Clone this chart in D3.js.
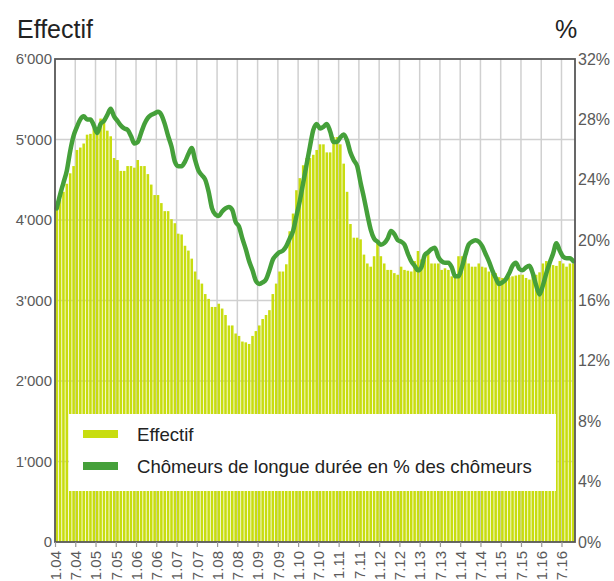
<!DOCTYPE html>
<html>
<head>
<meta charset="utf-8">
<script src="https://cdn.jsdelivr.net/npm/d3@7"></script>
<style>
  body { margin: 0; background: #fff; }
  svg { display: block; font-family: "Liberation Sans", Arial, sans-serif; }
</style>
</head>
<body>
<div id="chart"></div>
<script>
// monthly values, 1.2004 - 10.2016
const effectif = [
  4150, 4250, 4350, 4450, 4580, 4670, 4870, 4900, 4950, 5060,
  5070, 5200, 5140, 5260, 5260, 5110, 5040, 4770, 4745, 4610,
  4610, 4670, 4670, 4650, 4745, 4670, 4670, 4570, 4440, 4310,
  4310, 4210, 4110, 4110, 4010, 3960, 3830, 3820, 3680, 3620,
  3520, 3360, 3260, 3210, 3080, 3020, 2920, 2920, 2960, 2900,
  2820, 2690, 2690, 2590, 2560, 2490, 2480, 2460, 2560, 2620,
  2690, 2770, 2820, 2880, 3080, 3210, 3360, 3360, 3450, 3860,
  4080, 4370, 4520, 4680, 4770, 4770, 4810, 4870, 4940, 4940,
  4840, 4840, 5030, 5030, 4940, 4700, 4350, 3950, 3780, 3780,
  3760, 3570, 3460, 3420, 3550, 3730, 3550, 3460, 3380, 3380,
  3340, 3320, 3420, 3380, 3370, 3360, 3490, 3615, 3510, 3510,
  3580, 3460, 3460, 3460, 3380, 3400, 3380, 3300, 3300, 3550,
  3550, 3540, 3460, 3420, 3420, 3460, 3420, 3410, 3360, 3330,
  3340, 3290, 3280, 3280, 3290, 3300, 3310, 3320, 3320, 3280,
  3260, 3320, 3320, 3350, 3460, 3490, 3460, 3440, 3430, 3490,
  3460, 3420, 3460, 3460
]

const longueDuree = [
  22.1, 23.0, 23.8, 24.6, 25.9, 26.9, 27.5, 28.0, 28.2, 28.0,
  28.0, 27.6, 27.1, 27.7, 27.9, 28.3, 28.7, 28.2, 27.9, 27.6,
  27.4, 27.3, 26.9, 26.4, 26.5, 27.1, 27.7, 28.1, 28.3, 28.4,
  28.5, 28.3, 27.7, 26.9, 26.2, 25.2, 24.9, 24.9, 25.2, 25.7,
  26.1, 25.3, 24.6, 24.3, 24.0, 23.2, 22.1, 21.7, 21.6, 21.9,
  22.1, 22.2, 22.0, 21.2, 20.9, 20.1, 19.4, 18.6, 18.0, 17.3,
  17.1, 17.2, 17.4, 18.0, 18.7, 19.0, 19.2, 19.3, 19.6, 20.1,
  20.6, 21.6, 22.6, 23.8, 25.0, 26.2, 27.3, 27.7, 27.4, 27.5,
  27.7, 27.2, 26.5, 26.5, 26.8, 27.0, 26.6, 25.8, 25.3, 24.9,
  23.8, 22.8, 21.7, 20.7, 20.1, 19.9, 19.7, 19.8, 20.1, 20.6,
  20.4, 20.0, 19.9, 19.7, 19.1, 18.6, 18.3, 18.0, 18.2, 19.0,
  19.2, 19.4, 19.5, 18.9, 18.6, 18.5, 18.5, 18.2, 17.6, 17.6,
  18.2, 19.0, 19.7, 19.9, 20.0, 19.9, 19.6, 19.1, 18.6, 18.0,
  17.5, 17.1, 17.2, 17.4, 17.8, 18.3, 18.5, 18.1, 18.0, 18.2,
  18.3, 17.8, 17.0, 16.4, 17.0, 17.8, 18.5, 19.1, 19.8, 19.3,
  18.9, 18.8, 18.8, 18.6
]

const tickLabels = [
  '1.04', '7.04', '1.05', '7.05', '1.06', '7.06', '1.07', '7.07', '1.08',
  '7.08', '1.09', '7.09', '1.10', '7.10', '1.11', '7.11', '1.12', '7.12',
  '1.13', '7.13', '1.14', '7.14', '1.15', '7.15', '1.16', '7.16'
]
const leftTicks = [0, 1000, 2000, 3000, 4000, 5000, 6000]
const rightTicks = [0, 4, 8, 12, 16, 20, 24, 28, 32]
const seriesNames = ['Effectif', 'Chômeurs de longue durée en % des chômeurs']

const months = d3.timeMonth.range(new Date(2004, 0, 1), new Date(2016, 10, 1))

const barColor = '#c8dd0f'
const lineColor = '#45a03a'
const gridColor = '#d0d0d0'
const frameColor = '#585858'
const textColor = '#5a5a5a'

const W = 614, H = 581
const margin = { top: 59, right: 39, bottom: 39, left: 55 }
const width = W - margin.left - margin.right
const height = H - margin.top - margin.bottom

const svg = d3.select('#chart').append('svg')
  .attr('width', W)
  .attr('height', H)

const g = svg.append('g')
  .attr('transform', `translate(${margin.left}, ${margin.top})`)

const x = d3.scaleBand()
  .domain(months)
  .range([0, width])
  .paddingInner(0.24)
  .paddingOuter(0.12)

// month index scale, for ticks on month boundaries
const xIdx = d3.scaleLinear()
  .domain([0, months.length])
  .range([0, width])

const yLeft = d3.scaleLinear().domain([0, 6000]).range([height, 0])
const yRight = d3.scaleLinear().domain([0, 32]).range([height, 0])

const tickIdx = tickLabels.map((d, i) => i * 6)

// grid
g.append('g')
  .selectAll('line.h')
  .data(leftTicks.slice(1, -1))
  .join('line')
    .attr('x1', 0).attr('x2', width)
    .attr('y1', d => yLeft(d)).attr('y2', d => yLeft(d))
    .attr('stroke', gridColor).attr('stroke-width', 1.5)

g.append('g')
  .selectAll('line.v')
  .data(tickIdx.slice(1))
  .join('line')
    .attr('x1', d => xIdx(d)).attr('x2', d => xIdx(d))
    .attr('y1', 0).attr('y2', height)
    .attr('stroke', gridColor).attr('stroke-width', 1.5)

// bars
g.append('g')
  .selectAll('rect')
  .data(effectif)
  .join('rect')
    .attr('x', (d, i) => x(months[i]))
    .attr('y', d => yLeft(d))
    .attr('width', x.bandwidth())
    .attr('height', d => height - yLeft(d))
    .attr('fill', barColor)

// line
const line = d3.line()
  .x((d, i) => x(months[i]) + x.bandwidth() / 2)
  .y(d => yRight(d))
  .curve(d3.curveMonotoneX)

g.append('path')
  .datum(longueDuree)
  .attr('d', line)
  .attr('fill', 'none')
  .attr('stroke', lineColor)
  .attr('stroke-width', 4.5)
  .attr('stroke-linejoin', 'round')
  .attr('stroke-linecap', 'round')

// frame
g.append('rect')
  .attr('width', width)
  .attr('height', height)
  .attr('fill', 'none')
  .attr('stroke', frameColor)
  .attr('stroke-width', 1.8)

// bottom axis
const xAxis = d3.axisBottom(xIdx)
  .tickValues(tickIdx)
  .tickFormat((d, i) => tickLabels[i])
  .tickSize(5)
  .tickPadding(4)

const xg = g.append('g')
  .attr('transform', `translate(0, ${height})`)
  .call(xAxis)
xg.select('.domain').remove()
xg.selectAll('line').attr('stroke', '#999').attr('stroke-width', 1.2)
xg.selectAll('text')
  .attr('transform', 'rotate(-90)')
  .attr('text-anchor', 'end')
  .attr('x', -9)
  .attr('y', 0)
  .attr('dy', '0.35em')
  .attr('fill', textColor)
  .style('font-size', '15px')
  .style('font-family', '"Liberation Sans", Arial, sans-serif')

// left labels
g.append('g')
  .selectAll('text')
  .data(leftTicks)
  .join('text')
    .attr('x', -3)
    .attr('y', d => yLeft(d))
    .attr('dy', '0.35em')
    .attr('text-anchor', 'end')
    .attr('fill', textColor)
    .style('font-size', '15px')
    .text(d => d3.format(',')(d).replace(',', "'"))

// right labels
g.append('g')
  .selectAll('text')
  .data(rightTicks)
  .join('text')
    .attr('x', width + 3)
    .attr('y', d => yRight(d))
    .attr('dy', '0.35em')
    .attr('text-anchor', 'start')
    .attr('fill', textColor)
    .style('font-size', '16px')
    .text(d => d + '%')

// titles
svg.append('text')
  .attr('x', 17).attr('y', 38)
  .attr('fill', '#222')
  .style('font-size', '25px')
  .text('Effectif')

svg.append('text')
  .attr('x', 555).attr('y', 38)
  .attr('fill', '#222')
  .style('font-size', '25px')
  .text('%')

// legend
const legend = svg.append('g')
legend.append('rect')
  .attr('x', 69).attr('y', 414)
  .attr('width', 487).attr('height', 77)
  .attr('fill', '#fff')

const legendItems = legend.selectAll('g')
  .data(seriesNames)
  .join('g')
    .attr('transform', (d, i) => `translate(83, ${434 + i * 32})`)

legendItems.append('rect')
  .attr('x', 0).attr('y', -4)
  .attr('width', 35).attr('height', 8)
  .attr('fill', (d, i) => i === 0 ? barColor : lineColor)

legendItems.append('text')
  .attr('x', 54).attr('y', 0)
  .attr('dy', '0.35em')
  .attr('fill', '#222')
  .style('font-size', '18.6px')
  .text(d => d)
</script>
</body>
</html>
